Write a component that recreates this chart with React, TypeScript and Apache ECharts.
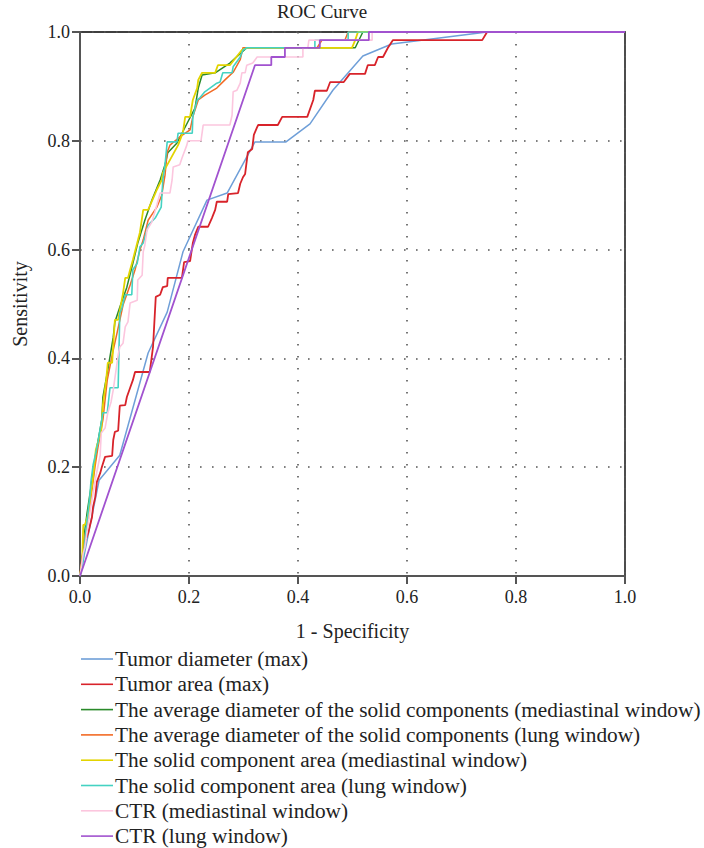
import React, { useEffect, useRef } from "react";
import * as echarts from "echarts";

const seriesNames = [
  "Tumor diameter (max)",
  "Tumor area (max)",
  "The average diameter of the solid components (mediastinal window)",
  "The average diameter of the solid components (lung window)",
  "The solid component area (mediastinal window)",
  "The solid component area (lung window)",
  "CTR (mediastinal window)",
  "CTR (lung window)",
];

const seriesColors = [
  "#6f9fd8",
  "#d8232a",
  "#2a8a2a",
  "#f26a24",
  "#e3d400",
  "#45d2c2",
  "#fcc6de",
  "#a152cf",
];

const axisTicks = [0, 0.2, 0.4, 0.6, 0.8, 1.0];

const tumorDiameter = [
  [0, 0], [0.035, 0.176], [0.073, 0.222], [0.125, 0.41], [0.16, 0.485], [0.189, 0.596],
  [0.233, 0.691], [0.27, 0.704], [0.321, 0.798], [0.378, 0.798], [0.422, 0.831],
  [0.464, 0.893], [0.519, 0.956], [0.572, 0.978], [0.747, 1.0], [1, 1],
];

const tumorArea = [
  [0, 0], [0.007, 0.057], [0.015, 0.079], [0.022, 0.108], [0.024, 0.127], [0.028, 0.145],
  [0.031, 0.173], [0.037, 0.189], [0.04, 0.2], [0.046, 0.219], [0.059, 0.221], [0.061, 0.25],
  [0.064, 0.265], [0.07, 0.267], [0.073, 0.313], [0.083, 0.314], [0.086, 0.329], [0.092, 0.346],
  [0.097, 0.36], [0.101, 0.375], [0.128, 0.375], [0.134, 0.421], [0.139, 0.513], [0.147, 0.517],
  [0.152, 0.531], [0.16, 0.533], [0.161, 0.548], [0.187, 0.548], [0.191, 0.577], [0.202, 0.579],
  [0.207, 0.612], [0.211, 0.627], [0.217, 0.642], [0.235, 0.642], [0.242, 0.658], [0.248, 0.673],
  [0.251, 0.688], [0.27, 0.688], [0.272, 0.702], [0.29, 0.704], [0.294, 0.721], [0.299, 0.733],
  [0.303, 0.739], [0.308, 0.779], [0.316, 0.785], [0.319, 0.811], [0.325, 0.825], [0.327, 0.829],
  [0.363, 0.829], [0.371, 0.844], [0.417, 0.844], [0.428, 0.875], [0.431, 0.892], [0.453, 0.892],
  [0.459, 0.908], [0.484, 0.908], [0.495, 0.923], [0.523, 0.923], [0.528, 0.939], [0.541, 0.939],
  [0.547, 0.954], [0.556, 0.954], [0.565, 0.971], [0.574, 0.985], [0.738, 0.985], [0.747, 1.0], [1, 1],
];

const avgDiamMediastinal = [
  [0, 0], [0.004, 0.029], [0.009, 0.085], [0.013, 0.116], [0.022, 0.176], [0.031, 0.237],
  [0.04, 0.287], [0.042, 0.329], [0.051, 0.379], [0.061, 0.439], [0.064, 0.467], [0.073, 0.494],
  [0.086, 0.531], [0.097, 0.575], [0.106, 0.612], [0.119, 0.654], [0.132, 0.691], [0.147, 0.728],
  [0.156, 0.756], [0.161, 0.778], [0.178, 0.796], [0.198, 0.835], [0.211, 0.86], [0.217, 0.897],
  [0.224, 0.921], [0.248, 0.925], [0.275, 0.943], [0.297, 0.963], [0.306, 0.971], [0.505, 0.971],
  [0.519, 1.0], [1, 1],
];

const avgDiamLung = [
  [0, 0], [0.004, 0.029], [0.009, 0.075], [0.015, 0.103], [0.022, 0.158], [0.028, 0.204],
  [0.033, 0.237], [0.042, 0.287], [0.05, 0.36], [0.059, 0.406], [0.068, 0.447], [0.079, 0.498],
  [0.092, 0.535], [0.101, 0.563], [0.11, 0.599], [0.116, 0.618], [0.125, 0.654], [0.141, 0.678],
  [0.15, 0.7], [0.156, 0.737], [0.16, 0.779], [0.165, 0.792], [0.183, 0.807], [0.202, 0.82],
  [0.207, 0.844], [0.217, 0.875], [0.229, 0.884], [0.251, 0.897], [0.266, 0.912], [0.281, 0.926],
  [0.294, 0.949], [0.299, 0.971], [0.435, 0.971], [0.444, 0.985], [0.486, 0.985], [0.492, 1.0], [1, 1],
];

const solidAreaMediastinal = [
  [0, 0], [0.004, 0.029], [0.006, 0.094], [0.009, 0.094], [0.015, 0.112], [0.024, 0.182],
  [0.029, 0.232], [0.033, 0.246], [0.039, 0.268], [0.042, 0.314], [0.048, 0.36], [0.051, 0.392],
  [0.059, 0.392], [0.064, 0.471], [0.07, 0.471], [0.079, 0.52], [0.083, 0.548], [0.088, 0.548],
  [0.092, 0.563], [0.097, 0.581], [0.105, 0.612], [0.11, 0.632], [0.116, 0.673], [0.125, 0.673],
  [0.141, 0.71], [0.15, 0.728], [0.152, 0.741], [0.18, 0.792], [0.189, 0.816], [0.193, 0.844],
  [0.202, 0.844], [0.207, 0.875], [0.215, 0.897], [0.217, 0.912], [0.224, 0.925], [0.248, 0.925],
  [0.253, 0.939], [0.275, 0.939], [0.297, 0.967], [0.308, 0.971], [0.499, 0.971], [0.505, 0.985],
  [0.51, 1.0], [1, 1],
];

const solidAreaLung = [
  [0, 0], [0.006, 0.029], [0.011, 0.085], [0.018, 0.145], [0.02, 0.173], [0.024, 0.204],
  [0.029, 0.226], [0.033, 0.246], [0.042, 0.3], [0.05, 0.3], [0.055, 0.346], [0.07, 0.346],
  [0.073, 0.483], [0.077, 0.493], [0.083, 0.517], [0.095, 0.517], [0.097, 0.563], [0.105, 0.575],
  [0.11, 0.605], [0.116, 0.612], [0.125, 0.645], [0.138, 0.658], [0.149, 0.678], [0.152, 0.728],
  [0.156, 0.756], [0.16, 0.798], [0.178, 0.798], [0.18, 0.814], [0.206, 0.814], [0.207, 0.844],
  [0.215, 0.875], [0.22, 0.879], [0.229, 0.89], [0.251, 0.906], [0.257, 0.908], [0.262, 0.925],
  [0.279, 0.925], [0.281, 0.936], [0.294, 0.954], [0.299, 0.967], [0.306, 0.971], [0.431, 0.971],
  [0.431, 0.985], [0.492, 0.985], [0.492, 1.0], [1, 1],
];

const ctrMediastinal = [
  [0, 0], [0.006, 0.042], [0.009, 0.053], [0.018, 0.116], [0.029, 0.182], [0.037, 0.222],
  [0.039, 0.263], [0.046, 0.272], [0.051, 0.3], [0.057, 0.32], [0.061, 0.342], [0.07, 0.406],
  [0.073, 0.421], [0.079, 0.428], [0.083, 0.458], [0.088, 0.467], [0.092, 0.502], [0.105, 0.507],
  [0.106, 0.544], [0.114, 0.553], [0.116, 0.596], [0.119, 0.608], [0.123, 0.636], [0.132, 0.651],
  [0.141, 0.682], [0.147, 0.704], [0.165, 0.704], [0.169, 0.728], [0.171, 0.752], [0.183, 0.756],
  [0.187, 0.768], [0.196, 0.792], [0.198, 0.8], [0.222, 0.8], [0.226, 0.829], [0.275, 0.829],
  [0.279, 0.847], [0.281, 0.89], [0.288, 0.893], [0.294, 0.906], [0.297, 0.925], [0.303, 0.925],
  [0.306, 0.939], [0.317, 0.943], [0.325, 0.954], [0.409, 0.954], [0.409, 0.971], [0.418, 0.971],
  [0.42, 0.985], [0.536, 0.985], [0.536, 1.0], [1, 1],
];

const ctrLung = [
  [0, 0], [0.321, 0.939], [0.351, 0.939], [0.351, 0.954], [0.376, 0.954], [0.376, 0.971],
  [0.44, 0.971], [0.44, 0.985], [0.53, 0.985], [0.53, 1.0], [1, 1],
];

const seriesData = [
  tumorDiameter,
  tumorArea,
  avgDiamMediastinal,
  avgDiamLung,
  solidAreaMediastinal,
  solidAreaLung,
  ctrMediastinal,
  ctrLung,
];

const lineWidths = [1.5, 1.8, 1.5, 1.5, 1.8, 1.6, 1.6, 1.8];

const FONT = "'Liberation Serif', 'DejaVu Serif', serif";

export default function App() {
  const ref = useRef<HTMLDivElement>(null);

  useEffect(() => {
    if (!ref.current) return;
    const chart = echarts.init(ref.current, undefined, { renderer: "svg" });
    const gridDots = { show: true, lineStyle: { color: "#555", width: 1.6, type: [1.6, 10.4] } };
    chart.setOption({
      animation: false,
      backgroundColor: "#fff",
      title: {
        text: "ROC Curve",
        left: 322,
        top: 2,
        padding: 0,
        textAlign: "center",
        textStyle: { fontFamily: FONT, fontSize: 19, fontWeight: "normal", color: "#222" },
      },
      grid: { left: 80, right: 79, top: 32, bottom: 272, containLabel: false },
      legend: {
        orient: "vertical",
        left: 81,
        top: 648,
        width: 620,
        height: 260,
        padding: 0,
        itemGap: 3.3,
        itemWidth: 32,
        itemHeight: 1.6,
        icon: "rect",
        selectedMode: false,
        textStyle: { fontFamily: FONT, fontSize: 21.3, color: "#222", lineHeight: 22, padding: [0, 0, 0, -3] },
        data: seriesNames,
      },
      xAxis: [
        {
          type: "value",
          min: 0,
          max: 1,
          interval: 0.2,
          name: "1 - Specificity",
          nameLocation: "middle",
          nameGap: 45,
          nameTextStyle: { fontFamily: FONT, fontSize: 20, color: "#222" },
          axisLine: { show: true, onZero: false, lineStyle: { color: "#555", width: 2 } },
          axisTick: { show: true, inside: false, length: 8, lineStyle: { color: "#555", width: 2 } },
          axisLabel: {
            fontFamily: FONT,
            fontSize: 18,
            color: "#222",
            margin: 12,
            formatter: (v: number) => (axisTicks.some((t) => Math.abs(t - v) < 1e-9) ? v.toFixed(1) : ""),
          },
          splitLine: gridDots,
          z: 2,
        },
        {
          type: "value",
          position: "top",
          min: 0,
          max: 1,
          axisLine: { show: true, onZero: false, lineStyle: { color: "#000", width: 1.5 } },
          axisTick: { show: false },
          axisLabel: { show: false },
          splitLine: { show: false },
          z: 1,
        },
      ],
      yAxis: [
        {
          type: "value",
          min: 0,
          max: 1,
          interval: 0.2,
          name: "Sensitivity",
          nameLocation: "middle",
          nameGap: 50,
          nameTextStyle: { fontFamily: FONT, fontSize: 20, color: "#222" },
          axisLine: { show: true, onZero: false, lineStyle: { color: "#555", width: 2 } },
          axisTick: { show: true, inside: false, length: 8, lineStyle: { color: "#555", width: 2 } },
          axisLabel: {
            fontFamily: FONT,
            fontSize: 18,
            color: "#222",
            margin: 10,
            formatter: (v: number) => v.toFixed(1),
          },
          splitLine: gridDots,
          z: 2,
        },
        {
          type: "value",
          position: "right",
          min: 0,
          max: 1,
          axisLine: { show: true, onZero: false, lineStyle: { color: "#111", width: 1.5 } },
          axisTick: { show: false },
          axisLabel: { show: false },
          splitLine: { show: false },
          z: 1,
        },
      ],
      series: seriesNames.map((name, i) => ({
        name,
        type: "line",
        xAxisIndex: 0,
        yAxisIndex: 0,
        data: seriesData[i],
        showSymbol: false,
        symbol: "none",
        color: seriesColors[i],
        lineStyle: { color: seriesColors[i], width: lineWidths[i] },
        emphasis: { disabled: true },
        z: 3 + i,
      })),
    });
    return () => chart.dispose();
  }, []);

  return (
    <div
      ref={ref}
      style={{ position: "absolute", left: 0, top: 0, width: 704, height: 848 }}
    />
  );
}
